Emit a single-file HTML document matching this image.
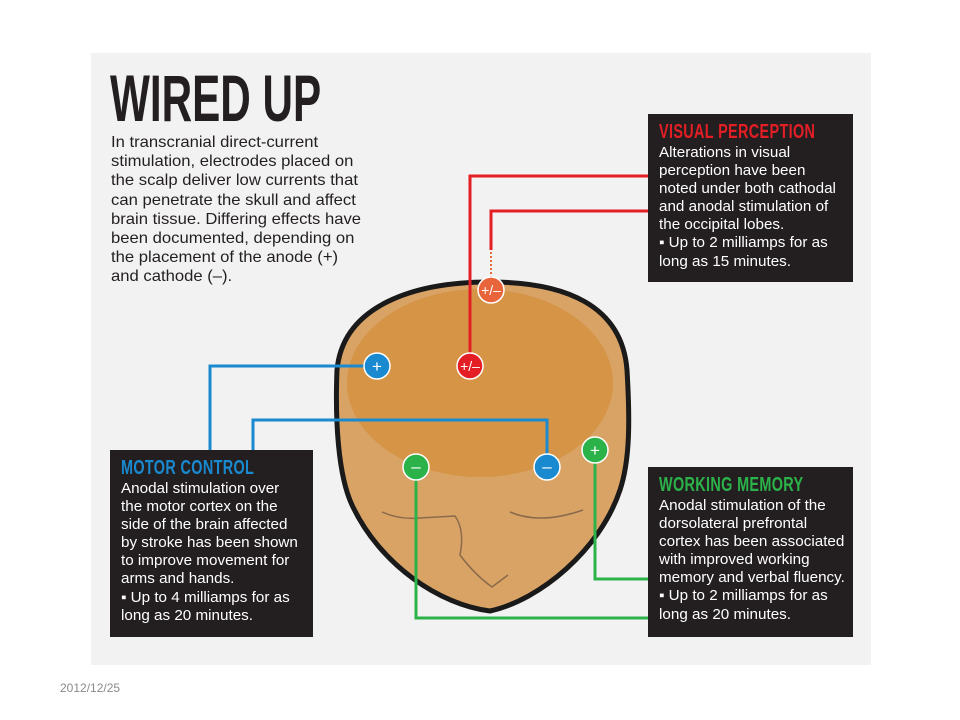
<!DOCTYPE html>
<html><head><style>
body{margin:0;width:960px;height:720px;background:#fff;position:relative;font-family:"Liberation Sans",sans-serif;overflow:hidden}
.panel{position:absolute;left:91px;top:53px;width:780px;height:612px;background:#f2f2f2}
.t{position:absolute;color:#231f20;font-size:16px;line-height:19.2px;white-space:nowrap;transform:scaleX(1.04);transform-origin:left}
.box{position:absolute;background:#231f20;color:#fff;padding:8px 10px 0 11px;box-sizing:border-box}
.in{font-size:14.5px;line-height:18.1px;white-space:nowrap;transform:scaleX(1.05);transform-origin:left}
.h{font-size:20px;line-height:21px;white-space:nowrap;transform:scaleX(0.72);transform-origin:left;font-weight:bold;letter-spacing:0.5px;margin-bottom:1px}
svg{position:absolute;left:0;top:0}
</style></head><body>
<div class="panel"></div>
<div style="position:absolute;left:110px;top:66px;font-weight:bold;font-size:66px;line-height:64px;color:#231f20;transform:scaleX(0.64);transform-origin:left;white-space:nowrap">WIRED UP</div>
<div class="t" style="left:111px;top:133px">In transcranial direct-current<br>stimulation, electrodes placed on<br>the scalp deliver low currents that<br>can penetrate the skull and affect<br>brain tissue. Differing effects have<br>been documented, depending on<br>the placement of the anode (+)<br>and cathode (–).</div>
<svg width="960" height="720">
<path d="M490 282 C565 282 622 305 627 370 C630 420 630 460 620 490 C600 550 540 600 490 611 C440 605 380 565 352 505 C338 475 335 420 337 370 C343 305 415 282 490 282 Z" fill="#d9a366" stroke="#1a1a1a" stroke-width="5"/>
<ellipse cx="480" cy="383" rx="133" ry="94" fill="#d4913f" opacity="0.8"/>
<path d="M382 512 Q400 520 420 518 L455 516 Q465 530 460 555 Q475 575 492 587 L508 575" fill="none" stroke="#8a6a4a" stroke-width="1.5"/>
<path d="M510 512 Q540 525 583 510" fill="none" stroke="#8a6a4a" stroke-width="1.5"/>
<g fill="none" stroke-width="3">
<path d="M470 353 V176 H648" stroke="#e31e24"/>
<path d="M491 250 V211 H648" stroke="#e31e24"/>
<path d="M491 252 V277" stroke="#e36a3a" stroke-width="2" stroke-dasharray="2,2"/>
<path d="M364 366 H210 V450" stroke="#1a8ad0"/>
<path d="M547 454 V420 H253 V450" stroke="#1a8ad0"/>
<path d="M595 463 V579 H648" stroke="#2bb34a"/>
<path d="M416 480 V618 H648" stroke="#2bb34a"/>
</g>
<g stroke="#fff" stroke-width="1.5">
<circle cx="377" cy="366" r="13" fill="#1a8ad0"/>
<circle cx="470" cy="366" r="13" fill="#e31e24"/>
<circle cx="491" cy="290" r="13" fill="#e8643a"/>
<circle cx="547" cy="467" r="13" fill="#1a8ad0"/>
<circle cx="416" cy="467" r="13" fill="#2bb34a"/>
<circle cx="595" cy="450" r="13" fill="#2bb34a"/>
</g>
<g fill="#fff" font-family="Liberation Sans,sans-serif" text-anchor="middle" font-size="17">
<text x="377" y="372">+</text><text x="470" y="371" font-size="14">+/–</text><text x="491" y="295" font-size="14">+/–</text>
<text x="547" y="472">–</text><text x="416" y="472">–</text><text x="595" y="456">+</text>
</g>
</svg>
<div class="box" style="left:648px;top:114px;width:205px;height:168px"><div class="h" style="color:#e31e24">VISUAL PERCEPTION</div><div class="in">Alterations in visual<br>perception have been<br>noted under both cathodal<br>and anodal stimulation of<br>the occipital lobes.<br>▪ Up to 2 milliamps for as<br>long as 15 minutes.</div></div>
<div class="box" style="left:110px;top:450px;width:203px;height:187px"><div class="h" style="color:#1a8ad0">MOTOR CONTROL</div><div class="in">Anodal stimulation over<br>the motor cortex on the<br>side of the brain affected<br>by stroke has been shown<br>to improve movement for<br>arms and hands.<br>▪ Up to 4 milliamps for as<br>long as 20 minutes.</div></div>
<div class="box" style="left:648px;top:467px;width:205px;height:170px"><div class="h" style="color:#2bb34a">WORKING MEMORY</div><div class="in">Anodal stimulation of the<br>dorsolateral prefrontal<br>cortex has been associated<br>with improved working<br>memory and verbal fluency.<br>▪ Up to 2 milliamps for as<br>long as 20 minutes.</div></div>
<div style="position:absolute;left:60px;top:681px;font-size:12px;color:#8a8a8a">2012/12/25</div>
</body></html>
